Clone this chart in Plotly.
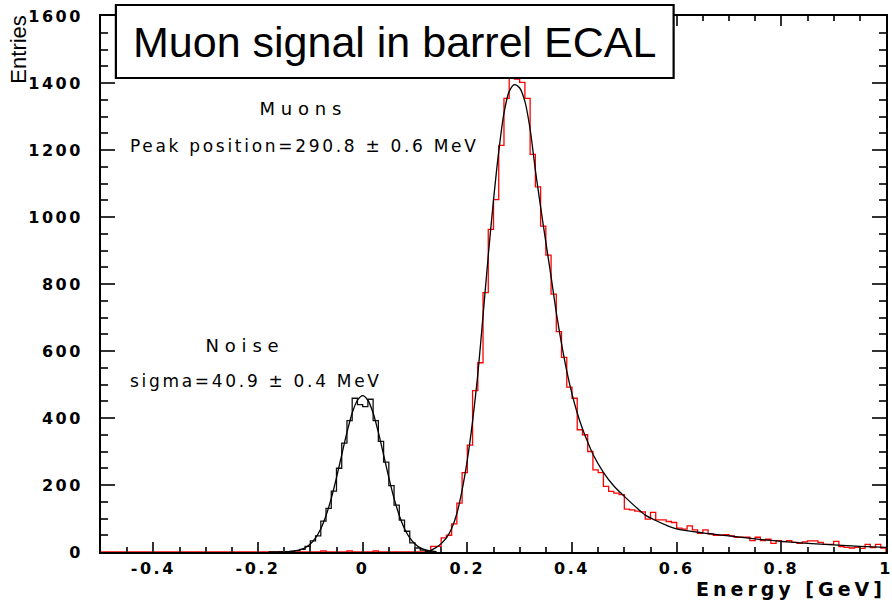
import numpy as np
import plotly.graph_objects as go

# ---------------- data ----------------
bin_width = 0.01

# black histogram: noise (bins start at -0.16)
noise_first_edge = -0.16
noise_counts = [0, 1, 2, 4, 8, 17, 33, 48, 92, 130, 182, 250, 325, 392, 459,
                440, 434, 456, 392, 330, 268, 198, 140, 95, 62, 27, 12, 6, 3, 1]

# red histogram: muons (full range starts at -0.5, signal starts at 0.13)
red_first_edge = -0.5
muon_first_edge = 0.13
red_low_edges = [-0.08, -0.03, 0.02]
red_low_counts = [3, 3, 3]
muon_counts = [17, 17, 42, 50, 84, 146, 237, 319, 482, 565, 774, 963, 1052, 1214,
               1354, 1440, 1412, 1402, 1354, 1187, 1090, 973, 886, 770, 658, 581,
               492, 459, 365, 350, 300, 245, 237, 196, 181, 176, 171, 128, 126,
               122, 120,
               98, 118, 96, 96, 91, 88, 71, 68, 78, 66, 56, 66, 54, 50, 50, 52,
               48, 44, 44, 44, 34, 44, 34, 38, 26, 34, 31, 34, 29, 26, 30, 33,
               33, 29, 23, 23, 32, 16, 14, 12, 14, 11, 23, 13, 23, 12]

# fitted curves
noise_fit_x = [-0.18, -0.16, -0.15, -0.14, -0.13, -0.12, -0.11, -0.10, -0.09, -0.08,
               -0.07, -0.06, -0.05, -0.04, -0.03, -0.02, -0.01, 0.0, 0.01, 0.02,
               0.03, 0.04, 0.05, 0.06, 0.07, 0.08, 0.09, 0.10, 0.11, 0.12, 0.13, 0.14]
noise_fit_y = [0, 0.2, 0.6, 1.4, 3.1, 6.4, 12.8, 23.9, 42, 69.6,
               109, 160, 222, 290, 357, 415, 453, 467, 453, 415,
               357, 290, 222, 160, 109, 69.6, 42, 23.9, 12.8, 6.4, 3.1, 1.4]

muon_fit_x = [0.12, 0.13, 0.14, 0.15, 0.16, 0.17, 0.18, 0.19, 0.20, 0.21, 0.22, 0.23,
              0.24, 0.25, 0.26, 0.27, 0.28, 0.29, 0.30, 0.31, 0.32, 0.33, 0.34, 0.35,
              0.36, 0.37, 0.38, 0.39, 0.40, 0.41, 0.42, 0.43, 0.44, 0.46, 0.48, 0.50,
              0.52, 0.54, 0.56, 0.58, 0.60, 0.65, 0.70, 0.75, 0.80, 0.85, 0.90, 0.95, 1.00]
muon_fit_y = [1, 5, 13, 25, 42, 70, 115, 185, 275, 390, 530, 705,
              885, 1050, 1195, 1310, 1375, 1395, 1385, 1345, 1262, 1140, 1030, 925,
              822, 715, 622, 540, 472, 415, 368, 328, 292, 238, 197, 166,
              137, 110, 94, 80, 69, 57, 48, 39, 32, 26, 21, 17, 14]

x_tick_vals = [-0.4, -0.2, 0, 0.2, 0.4, 0.6, 0.8, 1.0]
x_tick_text = ["-0.4", "-0.2", "0", "0.2", "0.4", "0.6", "0.8", "1"]
y_tick_vals = [0, 200, 400, 600, 800, 1000, 1200, 1400, 1600]
y_tick_text = ["0", "200", "400", "600", "800", "1000", "1200", "1400", "1600"]

title_text = "Muon signal in barrel ECAL"
x_title = "Energy [GeV]"
y_title = "Entries"
muon_label = "Muons"
muon_info = "Peak position=290.8 \u00b1 0.6 MeV"
noise_label = "Noise"
noise_info = "sigma=40.9 \u00b1 0.4 MeV"


def step_xy(first_edge, counts):
    counts = np.asarray(counts, dtype=float)
    n = len(counts)
    edges = first_edge + bin_width * np.arange(n + 1)
    xs = np.concatenate([[edges[0]], edges[:-1], [edges[-1]], [edges[-1]]])
    ys = np.concatenate([[0.0], counts, [counts[-1]], [0.0]])
    return xs, ys


# full red histogram
n_low = int(round((muon_first_edge - red_first_edge) / bin_width))
red_low = np.zeros(n_low)
for e, c in zip(red_low_edges, red_low_counts):
    red_low[int(round((e - red_first_edge) / bin_width))] = c
red_counts = np.concatenate([red_low, muon_counts])

rx, ry = step_xy(red_first_edge, red_counts)
nx, ny = step_xy(noise_first_edge, noise_counts)

fig = go.Figure()
fig.add_trace(go.Scatter(x=rx, y=ry, mode="lines", line=dict(color="#ff0000", width=1.3, shape="hv"),
                         hoverinfo="skip"))
fig.add_trace(go.Scatter(x=nx, y=ny, mode="lines", line=dict(color="#111111", width=1.3, shape="hv"),
                         hoverinfo="skip"))
fig.add_trace(go.Scatter(x=noise_fit_x, y=noise_fit_y, mode="lines",
                         line=dict(color="black", width=1.3, shape="spline", smoothing=0.8),
                         hoverinfo="skip"))
fig.add_trace(go.Scatter(x=muon_fit_x, y=muon_fit_y, mode="lines",
                         line=dict(color="black", width=1.3, shape="spline", smoothing=0.8),
                         hoverinfo="skip"))

L, R, T, B = 101, 0, 16, 50
W, H = 892, 602
PW, PH = W - L - R, H - T - B


def px(xp):
    return (xp - L) / PW


def py(yp):
    return (H - B - yp) / PH


tick_font = dict(family="DejaVu Sans", size=16, color="black", weight="bold")
axis_common = dict(showgrid=False, zeroline=False, showline=True, linecolor="black", linewidth=2,
                   mirror="ticks", ticks="inside", tickwidth=1.5, tickcolor="#333333",
                   tickfont=tick_font, tickmode="array")

fig.update_xaxes(range=[-0.5, 1.0], tickvals=x_tick_vals, ticktext=x_tick_text, ticklen=10,
                 ticklabelstandoff=1, ticklabeloverflow="allow",
                 minor=dict(ticks="inside", ticklen=5, tickwidth=1.5, tickcolor="#333333",
                            tickmode="linear", tick0=0, dtick=0.05, showgrid=False),
                 **axis_common)
fig.update_yaxes(range=[0, 1600], tickvals=y_tick_vals, ticktext=y_tick_text, ticklen=14,
                 ticklabelstandoff=13,
                 minor=dict(ticks="inside", ticklen=7, tickwidth=1.5, tickcolor="#333333",
                            tickmode="linear", tick0=0, dtick=50, showgrid=False),
                 **axis_common)

# title box
fig.add_shape(type="rect", xref="paper", yref="paper", x0=px(116), x1=px(678), y0=py(78), y1=py(5),
              line=dict(color="black", width=2.2), fillcolor="white", layer="above")

ann_spacing = []


def add_ann(text, x, y, xanchor, yanchor, font, spacing="0px", align="center", textangle=0):
    fig.add_annotation(text=text, x=x, y=y, xref="paper", yref="paper", xanchor=xanchor,
                       yanchor=yanchor, showarrow=False, font=font, align=align,
                       textangle=textangle)
    ann_spacing.append(spacing)


add_ann(title_text, px(397), py(42), "center", "middle",
        dict(family="Liberation Sans", size=43, color="black"))
add_ann(y_title, px(18), py(14), "center", "top",
        dict(family="Liberation Sans", size=22, color="#000000"), textangle=-90)
add_ann(x_title, px(894), py(589), "right", "middle",
        dict(family="DejaVu Sans", size=19, color="black", weight="bold"), spacing="4px", align="right")
ann_font = dict(family="DejaVu Sans", size=17, color="black")
big_font = dict(family="DejaVu Sans", size=18, color="black")
add_ann(muon_label, px(305), py(109), "center", "middle", big_font, spacing="5.8px")
add_ann(muon_info, px(128), py(146), "left", "middle", ann_font, spacing="2.7px", align="left")
add_ann(noise_label, px(246), py(345), "center", "middle", big_font, spacing="5.8px")
add_ann(noise_info, px(128), py(381), "left", "middle", ann_font, spacing="2.7px", align="left")

fig.update_layout(width=W, height=H, margin=dict(l=L, r=R, t=T, b=B), paper_bgcolor="white",
                  plot_bgcolor="white", showlegend=False)

js_list = "[" + ",".join("'" + s + "'" for s in ann_spacing) + "]"
post_script = """
var gd = document.getElementById('{plot_id}');
function sp(sel, v){ gd.querySelectorAll(sel).forEach(function(t){ t.style.letterSpacing = v; }); }
sp('.xtick text', '2.5px');
sp('.ytick text', '2.5px');
var spacing = %s;
spacing.forEach(function(v, i){ sp('g.annotation[data-index="' + i + '"] text', v); });
""" % js_list

fig.write_html("out.html", post_script=post_script)
